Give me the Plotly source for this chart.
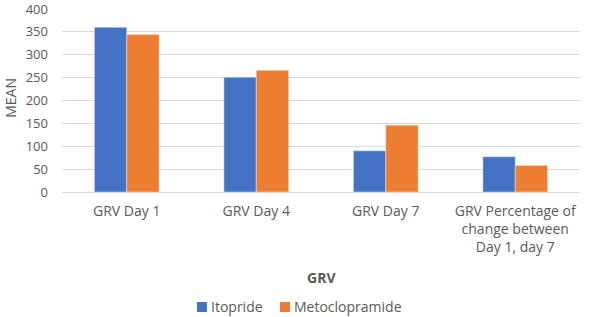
import plotly.graph_objects as go

categories = ["GRV Day 1", "GRV Day 4", "GRV Day 7", "GRV Percentage of<br>change between<br>Day 1, day 7"]
itopride = [360, 251, 90, 77]
metoclopramide = [344, 266, 146, 58]
y_ticks = [0, 50, 100, 150, 200, 250, 300, 350, 400]

font_fam = "Open Sans, Liberation Sans, sans-serif"
gray = "#595959"
blue = "#4472C4"
orange = "#ED7D31"

fig = go.Figure()
fig.add_trace(go.Bar(name="Itopride", x=categories, y=itopride, marker_color=blue))
fig.add_trace(go.Bar(name="Metoclopramide", x=categories, y=metoclopramide, marker_color=orange))

def legend_square(x0, x1, color):
    return dict(type="rect", xref="paper", yref="paper", x0=x0, x1=x1, y0=-0.6557, y1=-0.601,
                fillcolor=color, line=dict(width=0))

fig.update_layout(
    width=602, height=317,
    margin=dict(l=62, r=22, t=9, b=125, autoexpand=False),
    paper_bgcolor="white", plot_bgcolor="white",
    barmode="group", bargap=0.5, bargroupgap=0,
    font=dict(family=font_fam, size=14, color=gray),
    showlegend=False,
    xaxis=dict(showgrid=False, showline=False, ticks="", tickfont=dict(size=14, color=gray),
               ticklabelstandoff=9, automargin=False),
    yaxis=dict(range=[0, 400], tickmode="array", tickvals=y_ticks, showgrid=True,
               gridcolor="#d9d9d9", gridwidth=1,
               zeroline=True, zerolinecolor="#d9d9d9", zerolinewidth=1, showline=False,
               ticks="", tickfont=dict(size=13, color=gray), ticklabelstandoff=13,
               automargin=False, ticklabeloverflow="allow"),
    shapes=[legend_square(0.2606, 0.2799, blue), legend_square(0.4208, 0.4402, orange)],
    annotations=[
        dict(text="<b>GRV</b>", x=0.5, y=-0.4645, xref="paper", yref="paper",
             xanchor="center", yanchor="middle", showarrow=False, font=dict(size=14, color=gray)),
        dict(text="MEAN", x=-0.100, y=0.516, xref="paper", yref="paper", textangle=-90,
             xanchor="center", yanchor="middle", showarrow=False, font=dict(size=14, color=gray)),
        dict(text="Itopride", x=0.2837, y=-0.6284,
             xref="paper", yref="paper", xanchor="left", yanchor="middle", showarrow=False,
             font=dict(size=14, color=gray)),
        dict(text="Metoclopramide", x=0.4439, y=-0.6284,
             xref="paper", yref="paper", xanchor="left", yanchor="middle", showarrow=False,
             font=dict(size=14, color=gray)),
    ],
)

fig.write_html("out.html", config={"displayModeBar": False},
               post_script="document.body.style.margin='0';document.body.style.overflow='hidden';")
